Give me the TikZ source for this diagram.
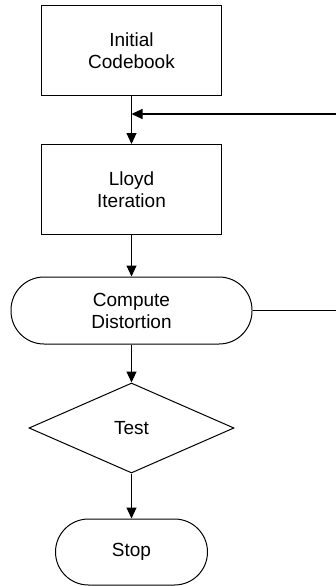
\documentclass[tikz,border=0pt]{standalone}
\usepackage{fontspec}
\setmainfont{Liberation Sans}
\usetikzlibrary{arrows.meta,shapes.geometric}
\begin{document}
\begin{tikzpicture}[x=1pt,y=-1pt,
  every node/.style={font=\fontsize{19}{22}\selectfont, align=center, draw, line width=1pt, inner sep=0pt},
  procbox/.style={rectangle, minimum width=180pt, minimum height=90pt},
  termbox/.style={rectangle, rounded corners=33pt, minimum height=67pt},
  testbox/.style={diamond, minimum width=205pt, minimum height=90pt},
  flow/.style={line width=1.1pt, -{Triangle[length=11pt,width=10pt]}},
  plain/.style={line width=1pt}]
  \useasboundingbox (0,0) rectangle (336,586);
  \node[procbox] (init)  at (131.5,50.5)  {Initial\\Codebook};
  \node[procbox] (lloyd) at (131.5,189.5) {Lloyd\\Iteration};
  \node[termbox, minimum width=241pt] (comp) at (131.5,310.5) {Compute\\Distortion};
  \node[testbox] (test)  at (131.5,428)   {Test};
  \node[termbox, minimum width=152pt, minimum height=66pt] (stop) at (131.5,552) {Stop};
  \coordinate (loopin)  at (337,114);
  \coordinate (joint)   at (131.5,114);
  \coordinate (loopout) at (337,310.5);
  \draw[flow] (init) -- (lloyd);
  \draw[flow] (loopin) -- (joint);
  \draw[flow] (lloyd) -- (comp);
  \draw[plain] (comp) -- (loopout);
  \draw[flow] (comp) -- (test);
  \draw[flow] (test) -- (stop);
\end{tikzpicture}
\end{document}
